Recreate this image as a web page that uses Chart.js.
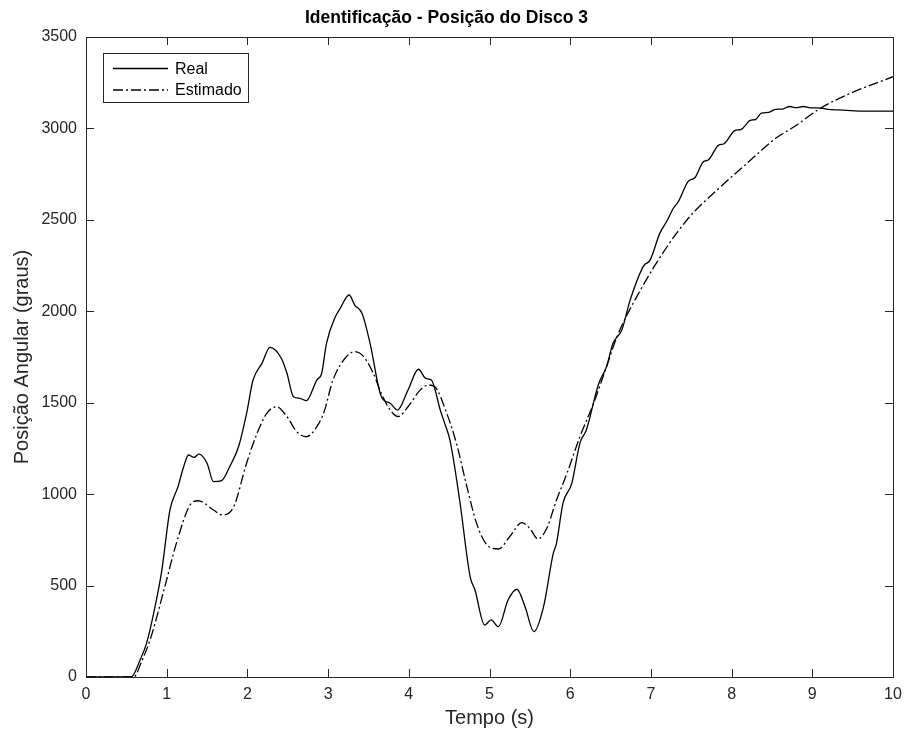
<!DOCTYPE html>
<html>
<head>
<meta charset="utf-8">
<script src="https://cdn.jsdelivr.net/npm/chart.js@4/dist/chart.umd.min.js"></script>
<style>
  html, body { margin: 0; padding: 0; background: #ffffff; }
  #wrap { width: 908px; height: 730px; }
</style>
</head>
<body>
<div id="wrap"><canvas id="chart" width="908" height="730"></canvas></div>
<script>
// Measured disc 3 angular position (time in s, position in degrees)
const realTime = [0, 0.56, 0.67, 0.75, 0.855, 0.94, 1.04, 1.14, 1.21, 1.27, 1.34, 1.40, 1.50, 1.58, 1.68, 1.78, 1.89, 1.99, 2.07, 2.18, 2.28, 2.42, 2.49, 2.57, 2.65, 2.73, 2.86, 2.92, 2.98, 3.09, 3.15, 3.26, 3.33, 3.42, 3.52, 3.66, 3.77, 3.86, 3.99, 4.12, 4.21, 4.28, 4.39, 4.45, 4.51, 4.63, 4.76, 4.82, 4.94, 5.02, 5.11, 5.23, 5.34, 5.44, 5.55, 5.67, 5.79, 5.83, 5.91, 6.02, 6.12, 6.20, 6.35, 6.45, 6.53, 6.64, 6.74, 6.91, 6.99, 7.11, 7.20, 7.28, 7.34, 7.46, 7.55, 7.65, 7.71, 7.84, 7.90, 8.04, 8.12, 8.23, 8.30, 8.37, 8.46, 8.54, 8.63, 8.72, 8.80, 8.89, 8.98, 9.07, 9.20, 9.34, 9.59, 10];
const realPos = [0, 0, 93, 184, 384, 585, 913, 1041, 1150, 1214, 1201, 1219, 1169, 1068, 1074, 1150, 1259, 1442, 1624, 1715, 1803, 1743, 1661, 1533, 1524, 1511, 1624, 1660, 1825, 1970, 2016, 2089, 2034, 1989, 1825, 1533, 1497, 1460, 1569, 1683, 1633, 1624, 1460, 1380, 1296, 968, 549, 476, 284, 312, 275, 421, 480, 385, 248, 385, 676, 731, 950, 1059, 1278, 1351, 1600, 1697, 1825, 1898, 2057, 2248, 2280, 2426, 2495, 2565, 2600, 2709, 2733, 2818, 2827, 2909, 2915, 2988, 2995, 3044, 3050, 3084, 3088, 3104, 3106, 3120, 3114, 3120, 3112, 3112, 3104, 3101, 3095, 3095];

// Identified model response
const estTime = [0, 0.59, 0.69, 0.81, 0.98, 1.12, 1.29, 1.39, 1.58, 1.69, 1.83, 1.99, 2.12, 2.24, 2.36, 2.49, 2.61, 2.73, 2.86, 2.95, 3.06, 3.21, 3.33, 3.44, 3.56, 3.66, 3.77, 3.87, 3.99, 4.14, 4.24, 4.32, 4.47, 4.59, 4.72, 4.84, 4.97, 5.11, 5.25, 5.40, 5.50, 5.60, 5.71, 5.83, 5.96, 6.12, 6.29, 6.45, 6.58, 6.87, 7.20, 7.48, 7.82, 8.19, 8.56, 8.76, 9.10, 9.47, 10];
const estPos = [0, 0, 85, 225, 500, 731, 941, 964, 913, 886, 931, 1169, 1333, 1442, 1478, 1424, 1342, 1314, 1369, 1450, 1624, 1743, 1779, 1752, 1661, 1551, 1460, 1424, 1478, 1569, 1597, 1588, 1442, 1278, 1041, 840, 722, 700, 767, 844, 813, 755, 813, 968, 1114, 1314, 1497, 1697, 1861, 2116, 2353, 2517, 2663, 2809, 2950, 3005, 3110, 3192, 3283];

const xTicks = [0, 1, 2, 3, 4, 5, 6, 7, 8, 9, 10];
const yTicks = [0, 500, 1000, 1500, 2000, 2500, 3000, 3500];
const seriesNames = ['Real', 'Estimado'];

const FONT = "'Liberation Sans', Arial, Helvetica, sans-serif";
const AXIS_COLOR = '#262626';

const toPoints = (ts, vs) => ts.map((t, i) => ({ x: t, y: vs[i] }));

// Box around the axes with inward tick marks on all four sides
const framePlugin = {
  id: 'frame',
  afterDatasetsDraw(chart) {
    const { ctx, chartArea: a, scales: { x, y } } = chart;
    const len = 8;
    ctx.save();
    ctx.strokeStyle = AXIS_COLOR;
    ctx.lineWidth = 1;
    ctx.beginPath();
    xTicks.forEach(v => {
      const px = Math.round(x.getPixelForValue(v)) + 0.5;
      ctx.moveTo(px, a.bottom); ctx.lineTo(px, a.bottom - len);
      ctx.moveTo(px, a.top); ctx.lineTo(px, a.top + len);
    });
    yTicks.forEach(v => {
      const py = Math.round(y.getPixelForValue(v)) + 0.5;
      ctx.moveTo(a.left, py); ctx.lineTo(a.left + len, py);
      ctx.moveTo(a.right, py); ctx.lineTo(a.right - len, py);
    });
    ctx.stroke();
    ctx.strokeRect(Math.round(a.left) + 0.5, Math.round(a.top) + 0.5,
      Math.round(a.right - a.left), Math.round(a.bottom - a.top));
    ctx.restore();
  }
};

// Boxed legend in the upper-left corner of the plot
const legendBoxPlugin = {
  id: 'legendBox',
  afterDraw(chart) {
    const { ctx, chartArea: a } = chart;
    const bx = a.left + 17, by = a.top + 16, bw = 145, bh = 49;
    ctx.save();
    ctx.fillStyle = '#ffffff';
    ctx.fillRect(bx, by, bw, bh);
    ctx.strokeStyle = AXIS_COLOR;
    ctx.lineWidth = 1;
    ctx.strokeRect(bx + 0.5, by + 0.5, bw, bh);
    chart.data.datasets.forEach((ds, i) => {
      const ly = by + 15.5 + i * 21.5;
      ctx.beginPath();
      ctx.strokeStyle = ds.borderColor;
      ctx.lineWidth = ds.borderWidth;
      ctx.setLineDash(ds.borderDash || []);
      ctx.moveTo(bx + 10, ly);
      ctx.lineTo(bx + 65, ly);
      ctx.stroke();
      ctx.setLineDash([]);
      ctx.fillStyle = '#000000';
      ctx.font = '16px ' + FONT;
      ctx.textBaseline = 'middle';
      ctx.fillText(ds.label, bx + 72, ly + 1);
    });
    ctx.restore();
  }
};

new Chart(document.getElementById('chart'), {
  type: 'line',
  data: {
    datasets: [
      {
        label: seriesNames[0],
        data: toPoints(realTime, realPos),
        borderColor: '#000000',
        borderWidth: 1.3,
        pointRadius: 0,
        cubicInterpolationMode: 'monotone',
        fill: false
      },
      {
        label: seriesNames[1],
        data: toPoints(estTime, estPos),
        borderColor: '#000000',
        borderWidth: 1.3,
        borderDash: [10, 3, 2, 3],
        pointRadius: 0,
        cubicInterpolationMode: 'monotone',
        fill: false
      }
    ]
  },
  options: {
    responsive: false,
    animation: false,
    events: [],
    layout: { padding: { left: 0, right: 15, top: 0, bottom: 0 } },
    plugins: {
      legend: { display: false },
      tooltip: { enabled: false },
      title: {
        display: true,
        text: 'Identificação - Posição do Disco 3',
        color: '#000000',
        font: { family: FONT, size: 17.5, weight: 'bold' },
        padding: { top: 8, bottom: 8 }
      }
    },
    scales: {
      x: {
        type: 'linear',
        min: 0,
        max: 10,
        afterBuildTicks: s => { s.ticks = xTicks.map(v => ({ value: v })); },
        afterFit: s => { s.height = 53; },
        ticks: {
          color: AXIS_COLOR,
          font: { family: FONT, size: 16 },
          padding: 0,
          maxRotation: 0,
          callback: v => String(v)
        },
        grid: { display: false },
        border: { display: false },
        title: {
          display: true,
          text: 'Tempo (s)',
          color: AXIS_COLOR,
          font: { family: FONT, size: 20 },
          padding: { top: 0, bottom: 0 }
        }
      },
      y: {
        type: 'linear',
        min: 0,
        max: 3500,
        afterBuildTicks: s => { s.ticks = yTicks.map(v => ({ value: v })); },
        afterFit: s => { s.width = 86; },
        ticks: {
          color: AXIS_COLOR,
          font: { family: FONT, size: 16 },
          padding: 1,
          callback: v => String(v)
        },
        grid: { display: false },
        border: { display: false },
        title: {
          display: true,
          text: 'Posição Angular (graus)',
          color: AXIS_COLOR,
          font: { family: FONT, size: 20 },
          padding: { top: 10, bottom: 0 }
        }
      }
    }
  },
  plugins: [framePlugin, legendBoxPlugin]
});
</script>
</body>
</html>
